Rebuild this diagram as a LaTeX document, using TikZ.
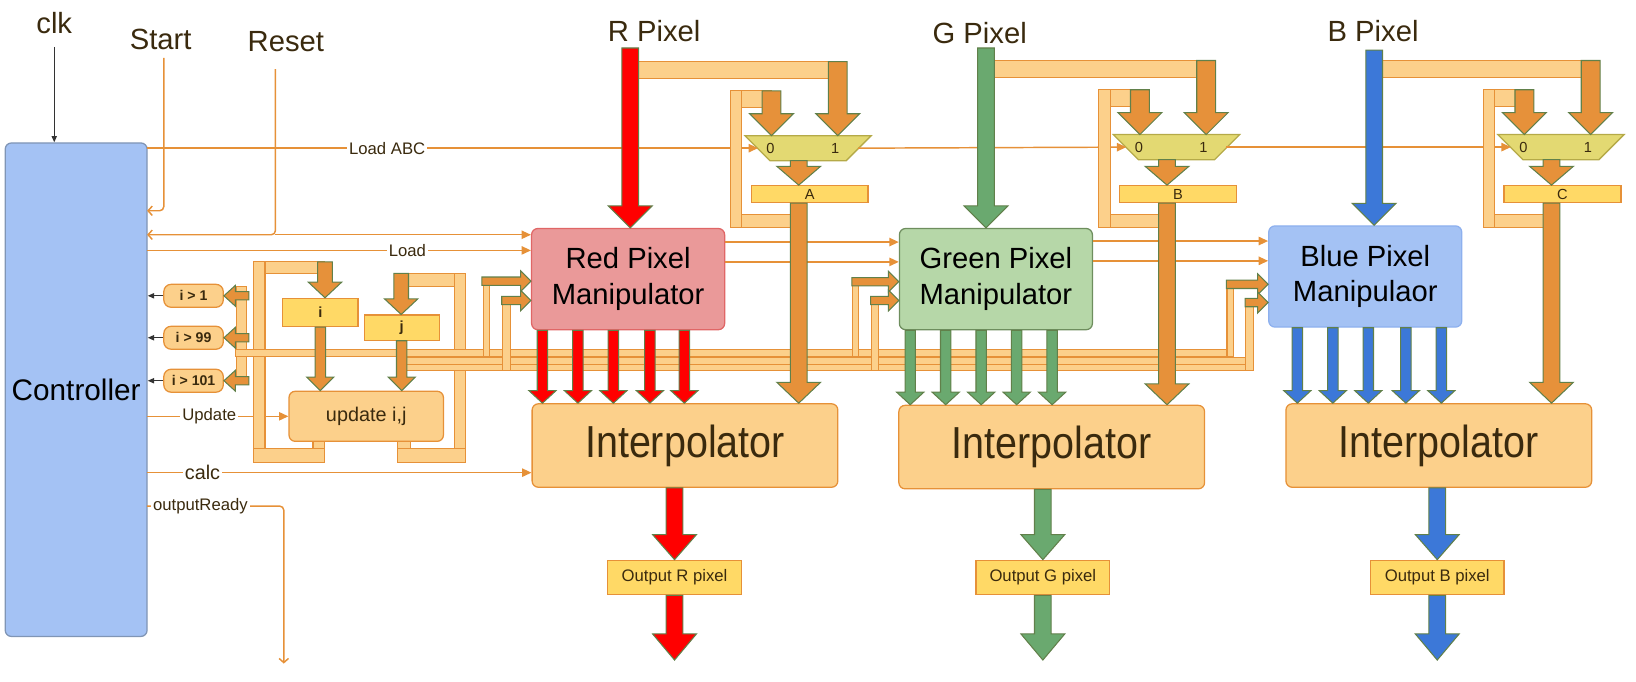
\documentclass[tikz,border=0pt]{standalone}
\usepackage{graphicx}
\usepackage{fontspec}
\setmainfont{Liberation Sans}
\usetikzlibrary{positioning}
\usetikzlibrary{calc}
\usetikzlibrary{arrows.meta}
\definecolor{ctrlblue}{HTML}{A4C2F4}
\definecolor{ctrledge}{HTML}{8095B5}
\definecolor{wire}{HTML}{E69138}
\definecolor{busfill}{HTML}{FCD08B}
\definecolor{darkbus}{HTML}{E6913A}
\definecolor{arrowedge}{HTML}{61804A}
\definecolor{regfill}{HTML}{FFD966}
\definecolor{muxfill}{HTML}{E3D972}
\definecolor{muxedge}{HTML}{B5AA48}
\definecolor{redpix}{HTML}{FF0000}
\definecolor{greenpix}{HTML}{6AA96F}
\definecolor{bluepix}{HTML}{3C78D8}
\definecolor{redpm}{HTML}{EA9999}
\definecolor{redpmedge}{HTML}{E06666}
\definecolor{greenpm}{HTML}{B6D7A8}
\definecolor{greenpmedge}{HTML}{6E8E5E}
\definecolor{bluepm}{HTML}{A4C2F4}
\definecolor{bluepmedge}{HTML}{8DB0EE}
\definecolor{txt}{HTML}{3A2A0E}
\tikzset{
        sig/.style={draw=wire, line width=1.4pt},
        tip/.style={-{Triangle[length=9pt,width=8pt]}},
        barb/.style={-{Straight Barb[length=4pt,width=9pt]}},
        blk/.style={draw=black!80, line width=1pt, -{Triangle[length=6pt,width=5pt]}},
        bus/.style={draw=wire, fill=busfill, line width=1pt},
        fatedge/.style={draw=arrowedge, line width=1pt},
        block/.style={rounded corners=6pt, line width=1.2pt, align=center, inner sep=0pt},
        ctrlbox/.style={block, fill=ctrlblue, draw=ctrledge, minimum width=136pt, minimum height=473pt, font=\fontsize{28.5}{32}\selectfont},
        pmbox/.style={block, minimum width=185pt, minimum height=97pt, font=\fontsize{28}{34}\selectfont},
        interp/.style={block, fill=busfill, draw=wire, minimum width=293pt, minimum height=80pt, text=txt, font=\fontsize{43}{46}\selectfont},
        reg/.style={draw=wire, fill=regfill, line width=1.2pt, inner sep=0pt, text=txt},
        outreg/.style={reg, minimum width=128pt, minimum height=33pt, font=\fontsize{16}{18}\selectfont},
        abcreg/.style={reg, minimum width=112pt, minimum height=16pt, font=\fontsize{14}{16}\selectfont},
        cmp/.style={draw=wire, fill=busfill, rounded corners=7pt, line width=1.2pt, minimum width=57pt, minimum height=22pt, inner sep=0pt, text=txt, font=\bfseries\fontsize{13.5}{15}\selectfont},
        toplbl/.style={text=txt, font=\fontsize{28}{30}\selectfont},
        siglbl/.style={fill=white, text=txt, inner sep=2pt, font=\fontsize{16}{18}\selectfont},
        muxshape/.style={draw=muxedge, fill=muxfill, line width=1.2pt},
        muxlbl/.style={text=txt, font=\fontsize{14}{16}\selectfont},
}
% block arrow: from, to, fill, shaft half width, head half width, head length
\newcommand{\fatarrow}[6]{%
  \coordinate (fa-h) at ($(#2)!#6!(#1)$);
  \draw[fatedge, fill=#3] ($(#1)!#4!90:(#2)$) -- ($(fa-h)!#4!90:(#2)$) -- ($(fa-h)!#5!90:(#2)$) -- (#2)
    -- ($(fa-h)!#5!-90:(#2)$) -- ($(fa-h)!#4!-90:(#2)$) -- ($(#1)!#4!-90:(#2)$) -- cycle;%
}
\begin{document}
\begin{tikzpicture}[x=1pt, y=-1pt]
      \useasboundingbox (0,0) rectangle (1568,653.6);
      % CONTROLLER
      \node[ctrlbox] (ctrl) at (73,373.5) {Controller};
      \node[toplbl] (clk) at (52,22) {clk};
      \node[toplbl] (start) at (154,38) {Start};
      \node[toplbl] (reset) at (274,40) {Reset};
      \coordinate (cLoadABC) at (141,142);
      \coordinate (cStart) at (141,202);
      \coordinate (cReset) at (141,225);
      \coordinate (cLoad) at (141,240);
      \coordinate (cUpdate) at (141,399);
      \coordinate (cCalc) at (141,453);
      \coordinate (cReady) at (141,485);
      \coordinate (rst) at (264,225);
      \coordinate (readyEnd) at (272,636);

      % COUNTERS I AND J
      \node[cmp] (cmp1) at (185.5,283.5) {i > 1};
      \node[cmp, below=17pt of cmp1] (cmp2) {i > 99};
      \node[cmp, below=18pt of cmp2] (cmp3) {i > 101};
      \node[reg, minimum width=72pt, minimum height=27pt, font=\bfseries\fontsize{14}{16}\selectfont] (regI) at (307,299.5) {i};
      \node[reg, minimum width=72pt, minimum height=24pt, font=\bfseries\fontsize{14}{16}\selectfont] (regJ) at (385,314) {j};
      \node[block, fill=busfill, draw=wire, minimum width=148pt, minimum height=48pt, text=txt, font=\fontsize{19}{21}\selectfont] (update) at (351,399) {update i,j};

      % PIXEL CHANNELS
      \node[toplbl] (rpix) at (627,30) {R Pixel};
      \node[toplbl] (gpix) at (939,32) {G Pixel};
      \node[toplbl] (bpix) at (1316,30) {B Pixel};
      \coordinate (rtop) at (604,46);
      \coordinate (gtop) at (945,46);
      \coordinate (btop) at (1317,48);
      \node[pmbox, fill=redpm, draw=redpmedge] (redpm) at (602,267.5) {Red Pixel\\Manipulator};
      \node[pmbox, fill=greenpm, draw=greenpmedge] (greenpm) at (954.5,267.5) {Green Pixel\\Manipulator};
      \node[pmbox, fill=bluepm, draw=bluepmedge] (bluepm) at (1308.5,265) {Blue Pixel\\Manipulaor};
      \node[interp] (interpR) at (656.5,427) {\scalebox{.88}[1]{Interpolator}};
      \node[interp] (interpG) at (1008,428.5) {\scalebox{.88}[1]{Interpolator}};
      \node[interp] (interpB) at (1379,427) {\scalebox{.88}[1]{Interpolator}};
      \node[outreg] (outR) at (646.5,553.5) {Output R pixel};
      \node[outreg] (outG) at (999.5,553.5) {Output G pixel};
      \node[outreg] (outB) at (1377.5,553.5) {Output B pixel};
      \path (outR.south) +(0,62) coordinate (outRend);
      \path (outG.south) +(0,62) coordinate (outGend);
      \path (outB.south) +(0,62) coordinate (outBend);

      % MUXES AND A, B, C
      \coordinate (muxA) at (774.5,142);
      \coordinate (muxB) at (1127.5,141);
      \coordinate (muxC) at (1496,141);
      \draw[muxshape] (muxA) ++(-60.5,-12) -- ++(121,0) -- ++(-24,24) -- ++(-73,0) -- cycle;
      \draw[muxshape] (muxB) ++(-60.5,-12) -- ++(121,0) -- ++(-24,24) -- ++(-73,0) -- cycle;
      \draw[muxshape] (muxC) ++(-60.5,-12) -- ++(121,0) -- ++(-24,24) -- ++(-73,0) -- cycle;
      \node[muxlbl] (muxA-l0) at ([xshift=-36pt]muxA) {0};
      \node[muxlbl] (muxA-l1) at ([xshift=26pt]muxA) {1};
      \node[muxlbl] (muxB-l0) at ([xshift=-36pt]muxB) {0};
      \node[muxlbl] (muxB-l1) at ([xshift=26pt]muxB) {1};
      \node[muxlbl] (muxC-l0) at ([xshift=-36pt]muxC) {0};
      \node[muxlbl] (muxC-l1) at ([xshift=26pt]muxC) {1};
      \path (muxA) +(-35,-12) coordinate (muxA-0) +(-35,-55) coordinate (muxA-0s) +(28.5,-12) coordinate (muxA-1) +(28.5,-83) coordinate (muxA-1s)
            +(-9,12) coordinate (muxA-o) +(-48,0) coordinate (muxA-s) +(48,0) coordinate (muxA-e);
      \path (muxB) +(-35,-12) coordinate (muxB-0) +(-35,-55) coordinate (muxB-0s) +(28.5,-12) coordinate (muxB-1) +(28.5,-83) coordinate (muxB-1s)
            +(-9,12) coordinate (muxB-o) +(-48,0) coordinate (muxB-s) +(48,0) coordinate (muxB-e);
      \path (muxC) +(-35,-12) coordinate (muxC-0) +(-35,-55) coordinate (muxC-0s) +(28.5,-12) coordinate (muxC-1) +(28.5,-83) coordinate (muxC-1s)
            +(-9,12) coordinate (muxC-o) +(-48,0) coordinate (muxC-s) +(48,0) coordinate (muxC-e);
      \node[abcreg] (regA) at (776,186) {A};
      \node[abcreg] (regB) at (1129,186) {B};
      \node[abcreg] (regC) at (1497.5,186) {C};

      % WIRING
      % controller inputs
      \draw[blk] ([yshift=-9pt]clk.south) -- (clk.south |- ctrl.north);
      \draw[sig, barb, rounded corners=4pt] ([xshift=3pt,yshift=-4pt]start.south) |- (cStart);
      \draw[sig, barb, rounded corners=4pt, shorten <=13pt] (rst |- reset.south) -- (rst) -- (cReset);
      \draw[sig, tip] (rst) -- (rst -| redpm.west);
      \draw[blk] (cmp1.west) -- (cmp1.west -| ctrl.east);
      \draw[blk] (cmp2.west) -- (cmp2.west -| ctrl.east);
      \draw[blk] (cmp3.west) -- (cmp3.west -| ctrl.east);
      % controller outputs
      \draw[sig, tip] (cLoadABC) -- node[siglbl, pos=.393] (lLoadABC) {Load ABC} (muxA-s);
      \draw[sig, tip] (muxA-e) -- (muxB-s);
      \draw[sig, tip] (muxB-e) -- (muxC-s);
      \draw[sig, tip] (cLoad) -- node[siglbl, pos=.678] (lLoad) {Load} (cLoad -| redpm.west);
      \draw[sig, tip] (cUpdate) -- node[siglbl, pos=.44] (lUpdate) {Update} (update.west);
      \draw[sig, tip] (cCalc) -- node[siglbl, pos=.144, font=\fontsize{19}{21}\selectfont] (lCalc) {calc} (cCalc -| interpR.west);
      \draw[sig, barb, rounded corners=4pt] (cReady) -- node[siglbl, pos=.39] (lReady) {outputReady} (cReady -| readyEnd) -- (readyEnd);
      % manipulator to manipulator
      \path (redpm.east) +(0,-35.5) coordinate (rOut1) +(0,-16.5) coordinate (rOut2);
      \path (greenpm.east) +(0,-36.5) coordinate (gOut1) +(0,-17.5) coordinate (gOut2);
      \draw[sig, tip] (rOut1) -- (rOut1 -| greenpm.west);
      \draw[sig, tip] (rOut2) -- (rOut2 -| greenpm.west);
      \draw[sig, tip] (gOut1) -- (gOut1 -| bluepm.west);
      \draw[sig, tip] (gOut2) -- (gOut2 -| bluepm.west);

      % BUSES
      \draw[bus] (611,59) rectangle (803,75);
      \draw[bus] (953,58) rectangle (1156,74);
      \draw[bus] (1325,58) rectangle (1524.5,74);
      \draw[bus] (700,87) rectangle (711,218);
      \draw[bus] (711,87) rectangle (739.5,103);
      \draw[bus] (711,206) rectangle (765.5,218);
      \draw[bus] (1053,86) rectangle (1064,218);
      \draw[bus] (1064,86) rectangle (1092.5,102);
      \draw[bus] (1064,206) rectangle (1118.5,218);
      \draw[bus] (1421.5,86) rectangle (1432.5,218);
      \draw[bus] (1432.5,86) rectangle (1461,102);
      \draw[bus] (1432.5,206) rectangle (1487,218);
      % i and j loops
      \draw[bus] (243,251) rectangle (254,443);
      \draw[bus] (254,251) rectangle (311,262);
      \draw[bus] (243,430) rectangle (311,443);
      \draw[bus] (300,423) rectangle (311,430);
      \draw[bus] (436,262) rectangle (446,443);
      \draw[bus] (384,262) rectangle (436,275);
      \draw[bus] (381,430) rectangle (446,443);
      \draw[bus] (381,423) rectangle (393,430);
      \draw[bus] (227,275) rectangle (236,362);
      \draw[bus] (226,335) rectangle (1182,342);
      \draw[bus] (384,343) rectangle (1201,349);
      \draw[bus] (384,349) rectangle (1201,355);
      % risers to manipulators
      \draw[bus] (463,266) rectangle (469,342);
      \draw[bus] (482,284) rectangle (489,355);
      \draw[bus] (817,266) rectangle (823,342);
      \draw[bus] (835,284) rectangle (842,355);
      \draw[bus] (1176,268.5) rectangle (1182,342);
      \draw[bus] (1194,286) rectangle (1201,355);

      % BLOCK ARROWS
      % pixels in
      \fatarrow{rtop}{rtop |- redpm.north}{redpix}{8pt}{21pt}{21pt}
      \fatarrow{gtop}{gtop |- greenpm.north}{greenpix}{8pt}{21pt}{21pt}
      \fatarrow{btop}{btop |- bluepm.north}{bluepix}{8pt}{21pt}{21pt}
      % mux inputs and outputs
      \fatarrow{muxA-0s}{muxA-0}{darkbus}{9pt}{21pt}{21pt}
      \fatarrow{muxA-1s}{muxA-1}{darkbus}{9pt}{21pt}{21pt}
      \fatarrow{muxB-0s}{muxB-0}{darkbus}{9pt}{21pt}{21pt}
      \fatarrow{muxB-1s}{muxB-1}{darkbus}{9pt}{21pt}{21pt}
      \fatarrow{muxC-0s}{muxC-0}{darkbus}{9pt}{21pt}{21pt}
      \fatarrow{muxC-1s}{muxC-1}{darkbus}{9pt}{21pt}{21pt}
      \fatarrow{muxA-o}{muxA-o |- regA.north}{darkbus}{8pt}{21pt}{18pt}
      \fatarrow{muxB-o}{muxB-o |- regB.north}{darkbus}{8pt}{21pt}{18pt}
      \fatarrow{muxC-o}{muxC-o |- regC.north}{darkbus}{8pt}{21pt}{18pt}
      \fatarrow{muxA-o |- regA.south}{muxA-o |- interpR.north}{darkbus}{8pt}{21pt}{20pt}
      \fatarrow{muxB-o |- regB.south}{muxB-o |- interpG.north}{darkbus}{8pt}{21pt}{20pt}
      \fatarrow{muxC-o |- regC.south}{muxC-o |- interpB.north}{darkbus}{8pt}{21pt}{20pt}
      % counters
      \coordinate (iin) at (311.5,251);
      \coordinate (jin) at (384.5,262);
      \fatarrow{iin}{iin |- regI.north}{darkbus}{7pt}{16pt}{15pt}
      \fatarrow{jin}{jin |- regJ.north}{darkbus}{7pt}{16pt}{15pt}
      \fatarrow{regI.south}{regI.south |- update.north}{darkbus}{5pt}{13pt}{13pt}
      \fatarrow{regJ.south}{regJ.south |- update.north}{darkbus}{5pt}{13pt}{13pt}
      \path (cmp1.east) +(24,0) coordinate (c1s);
      \path (cmp2.east) +(24,0) coordinate (c2s);
      \path (cmp3.east) +(24,0) coordinate (c3s);
      \fatarrow{c1s}{cmp1.east}{darkbus}{4pt}{10pt}{11pt}
      \fatarrow{c2s}{cmp2.east}{darkbus}{4pt}{10pt}{11pt}
      \fatarrow{c3s}{cmp3.east}{darkbus}{4pt}{10pt}{11pt}
      % i and j into manipulators
      \path (redpm.west) +(-47,2) coordinate (ru) +(-28,20.5) coordinate (rl);
      \path (greenpm.west) +(-45,2.5) coordinate (gu) +(-27,20.5) coordinate (gl);
      \path (bluepm.west) +(-40,7.5) coordinate (bu) +(-22,25) coordinate (bl);
      \fatarrow{ru}{ru -| redpm.west}{darkbus}{4pt}{10pt}{10pt}
      \fatarrow{rl}{rl -| redpm.west}{darkbus}{4pt}{10pt}{10pt}
      \fatarrow{gu}{gu -| greenpm.west}{darkbus}{4pt}{10pt}{10pt}
      \fatarrow{gl}{gl -| greenpm.west}{darkbus}{4pt}{10pt}{10pt}
      \fatarrow{bu}{bu -| bluepm.west}{darkbus}{4pt}{10pt}{10pt}
      \fatarrow{bl}{bl -| bluepm.west}{darkbus}{4pt}{10pt}{10pt}
      % manipulators to interpolators
      \path (redpm.south west) +(11,0) coordinate (r1) +(45,0) coordinate (r2) +(79,0) coordinate (r3) +(114,0) coordinate (r4) +(147,0) coordinate (r5);
      \path (greenpm.south west) +(11,0) coordinate (g1) +(45,0) coordinate (g2) +(79,0) coordinate (g3) +(113,0) coordinate (g4) +(147,0) coordinate (g5);
      \path (bluepm.south west) +(28,0) coordinate (b1) +(62,0) coordinate (b2) +(96,0) coordinate (b3) +(132,0) coordinate (b4) +(166,0) coordinate (b5);
      \fatarrow{r1}{r1 |- interpR.north}{redpix}{5pt}{13pt}{12pt}
      \fatarrow{r2}{r2 |- interpR.north}{redpix}{5pt}{13pt}{12pt}
      \fatarrow{r3}{r3 |- interpR.north}{redpix}{5pt}{13pt}{12pt}
      \fatarrow{r4}{r4 |- interpR.north}{redpix}{5pt}{13pt}{12pt}
      \fatarrow{r5}{r5 |- interpR.north}{redpix}{5pt}{13pt}{12pt}
      \fatarrow{g1}{g1 |- interpG.north}{greenpix}{5pt}{13pt}{12pt}
      \fatarrow{g2}{g2 |- interpG.north}{greenpix}{5pt}{13pt}{12pt}
      \fatarrow{g3}{g3 |- interpG.north}{greenpix}{5pt}{13pt}{12pt}
      \fatarrow{g4}{g4 |- interpG.north}{greenpix}{5pt}{13pt}{12pt}
      \fatarrow{g5}{g5 |- interpG.north}{greenpix}{5pt}{13pt}{12pt}
      \fatarrow{b1}{b1 |- interpB.north}{bluepix}{5pt}{13pt}{12pt}
      \fatarrow{b2}{b2 |- interpB.north}{bluepix}{5pt}{13pt}{12pt}
      \fatarrow{b3}{b3 |- interpB.north}{bluepix}{5pt}{13pt}{12pt}
      \fatarrow{b4}{b4 |- interpB.north}{bluepix}{5pt}{13pt}{12pt}
      \fatarrow{b5}{b5 |- interpB.north}{bluepix}{5pt}{13pt}{12pt}
      % pixels out
      \fatarrow{outR.north |- interpR.south}{outR.north}{redpix}{8pt}{21pt}{24pt}
      \fatarrow{outG.north |- interpG.south}{outG.north}{greenpix}{8pt}{21pt}{24pt}
      \fatarrow{outB.north |- interpB.south}{outB.north}{bluepix}{8pt}{21pt}{24pt}
      \fatarrow{outR.south}{outRend}{redpix}{8pt}{21pt}{25pt}
      \fatarrow{outG.south}{outGend}{greenpix}{8pt}{21pt}{25pt}
      \fatarrow{outB.south}{outBend}{bluepix}{8pt}{21pt}{25pt}
\end{tikzpicture}
\end{document}
